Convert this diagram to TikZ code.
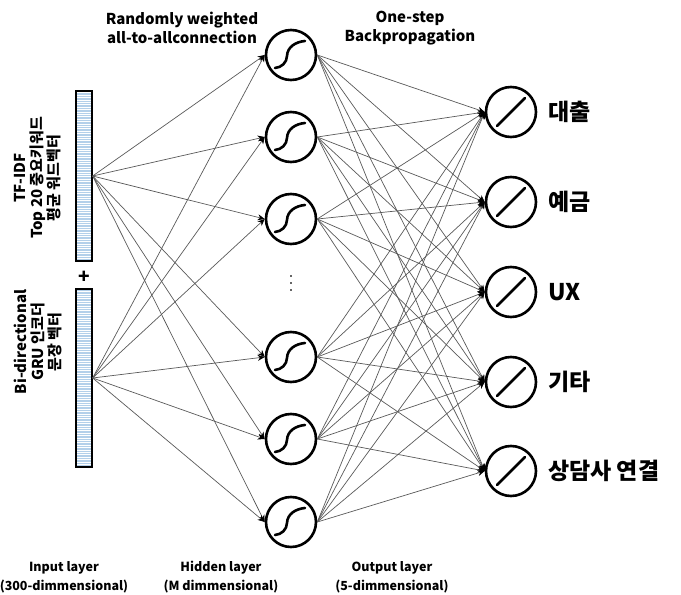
\documentclass[tikz,border=0pt]{standalone}
\usepackage{fontspec}
\setmainfont{Noto Sans CJK KR}
\usetikzlibrary{arrows.meta}
\definecolor{barblue}{RGB}{180,208,234}
\begin{document}
\begin{tikzpicture}[x=1pt,y=1pt,
  hid/.style={circle,draw,line width=2.6pt,minimum size=50pt,inner sep=0pt},
  outn/.style={circle,draw,line width=2.6pt,minimum size=50pt,inner sep=0pt},
  inbar/.style={draw,line width=1.3pt,fill=white,minimum width=16pt,minimum height=170pt,inner sep=0pt,
    path picture={\foreach \k in {1.2,3.6,...,180}{\draw[barblue,line width=1.4pt]
      ([yshift=\k pt]path picture bounding box.south west) -- ([yshift=\k pt]path picture bounding box.south east);}}},
  conn/.style={draw=black!65,line width=0.7pt,-{Stealth[length=7pt,width=6pt,black]}},
  lbl/.style={font=\bfseries\fontsize{23}{26}\selectfont,anchor=west,inner sep=0pt},
  hdr/.style={font=\bfseries\fontsize{15}{19}\selectfont,align=center,inner sep=0pt},
  bot/.style={font=\bfseries\fontsize{12.5}{19}\selectfont,align=center,inner sep=0pt},
  side/.style={font=\bfseries\fontsize{15}{17}\selectfont,align=center,rotate=90,inner sep=0pt},
  sym/.style={line width=2.6pt,line cap=round},
  dot/.style={fill=black!60,inner sep=0pt,minimum size=2.4pt}
]
\useasboundingbox (0,0) rectangle (681,595);

% input bars
\node[inbar] (in1) at (84,419) {};
\node[inbar,minimum height=178pt] (in2) at (84,217) {};
\node[font=\bfseries\fontsize{19}{19}\selectfont] (plus) at (84,318) {+};

% side labels
\node[side] (t1) at (38,417) {TF-IDF\\Top 20 중요키워드\\평균 워드벡터};
\node[side] (t2) at (38,253) {Bi-directional\\GRU 인코더\\문장 벡터};

% hidden nodes
\foreach \i/\y in {1/540,2/458,3/376,4/238,5/156,6/73}{
  \node[hid] (h\i) at (291,\y) {};
  \draw[sym] (h\i.center) ++(-16,-13) to[out=5,in=-92] ++(12,12) to[out=88,in=185] ++(18,15);
}
\node[dot] (d1) at (291,319) {};
\node[dot] (d2) at (291,312) {};
\node[dot] (d3) at (291,305) {};

% output nodes
\foreach \j/\y in {1/483,2/393,3/303,4/213,5/124}{
  \node[outn] (o\j) at (511,\y) {};
  \draw[sym] (o\j.center) ++(-14,-14) -- ++(28,28);
}
\node[lbl] (l1) at (548,483) {대출};
\node[lbl] (l2) at (548,393) {예금};
\node[lbl] (l3) at (548,303) {UX};
\node[lbl] (l4) at (548,213) {기타};
\node[lbl] (l5) at (548,124) {상담사 연결};

% connections
\foreach \i in {1,...,6}{
  \draw[conn] (in1.east) -- (h\i.west);
  \draw[conn] (in2.east) -- (h\i.west);
  \foreach \j in {1,...,5}{
    \draw[conn] (h\i.east) -- (o\j.west);
  }
}

% headers
\node[hdr] (hd1) at (182,567) {Randomly weighted\\all-to-allconnection};
\node[hdr] (hd2) at (410,567) {One-step\\Backpropagation};

% bottom labels
\node[bot] (b1) at (64,18) {Input layer\\(300-dimmensional)};
\node[bot] (b2) at (221,18) {Hidden layer\\(M dimmensional)};
\node[bot] (b3) at (392,18) {Output layer\\(5-dimmensional)};
\end{tikzpicture}
\end{document}
